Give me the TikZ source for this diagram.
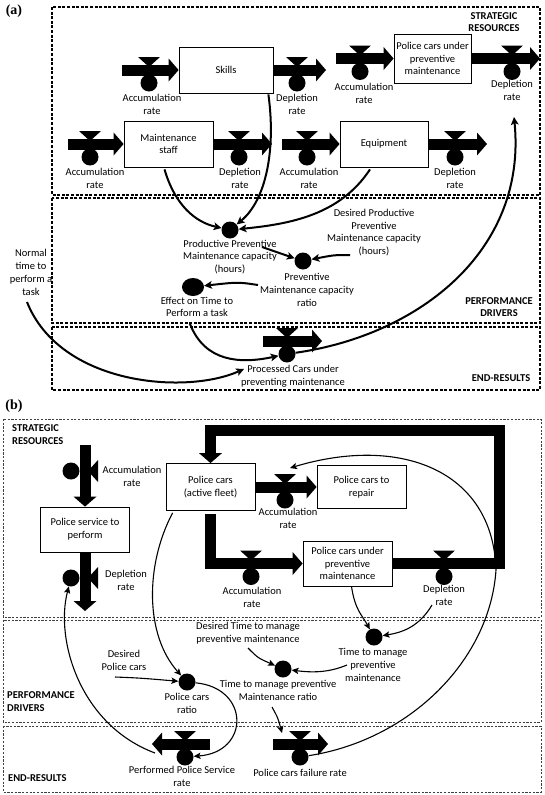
\documentclass[tikz,border=0pt]{standalone}
\usepackage{fontspec}
\setmainfont{Carlito}
\newfontfamily\serifbold{Liberation Serif}
\usetikzlibrary{arrows.meta,calc,shapes.geometric}
\begin{document}
\begin{tikzpicture}[x=1pt,y=-1pt,
  txt/.style={font=\fontsize{10.5}{12.8}\selectfont, align=center, inner sep=0pt},
  hdr/.style={txt, font=\fontsize{10.5}{12.8}\selectfont\bfseries},
  lbl/.style={font=\serifbold\bfseries\fontsize{14}{16}\selectfont, inner sep=0pt},
  stock/.style={draw, line width=0.8pt, txt},
  auxc/.style={circle, fill=black, inner sep=0pt, minimum size=17pt},
  auxe/.style={ellipse, fill=black, inner sep=0pt, minimum width=22pt, minimum height=18pt},
  flow/.style={line width=11pt, line join=miter, -{Triangle[length=10pt,width=23pt,line width=0pt]}},
  conA/.style={line width=2pt, -{Stealth[length=8pt,width=8pt,inset=2pt,line width=0pt]}},
  conB/.style={line width=1.1pt, -{Stealth[length=7pt,width=6.5pt,inset=1.5pt,line width=0pt]}},
  boxA/.style={line width=1.6pt, dash pattern=on 3pt off 1.6pt},
  boxB/.style={line width=0.6pt, black!75, dash pattern=on 2.2pt off 1.5pt},
  hvalve/.pic={\fill (-11,-13) -- (11,-13) -- (0,-3) -- cycle; \node[auxc] (-c) at (0,13) {};},
  vvalve/.pic={\fill (13,-11) -- (13,11) -- (3,0) -- cycle; \node[auxc] (-c) at (-14,0) {};}
]
\useasboundingbox (0,0) rectangle (544,795);

% ---------------- (a) ----------------
\node[lbl] (la) at (14,11) {(a)};
\draw[boxA] (52,7) rectangle (540,195);
\draw[boxA] (52,198) rectangle (540,323);
\draw[boxA] (52,327) rectangle (540,390);
\node[hdr] (sra) at (494,22) {STRATEGIC\\RESOURCES};
\node[hdr] (pda) at (499,307) {PERFORMANCE\\DRIVERS};
\node[hdr] (era) at (501,378) {END-RESULTS};

% stocks
\node[stock, minimum width=94pt, minimum height=46pt] (skills) at (226,70) {Skills};
\node[stock, minimum width=77pt, minimum height=49pt] (pcpmA) at (432.5,58.5) {Police cars under\\preventive\\maintenance};
\node[stock, minimum width=89pt, minimum height=46pt] (mstaff) at (168.5,144) {Maintenance\\staff};
\node[stock, minimum width=88pt, minimum height=46pt] (equip) at (384,144) {Equipment};

% flows row 1
\coordinate (s1) at (122,70);
\draw[flow] (s1) -- (skills.west);
\pic (va1) at (149,70) {hvalve};
\node[txt] (la1) at (152,104) {Accumulation\\rate};
\coordinate (e1) at (326,70);
\draw[flow] (skills.east) -- (e1);
\pic (va2) at (297,70) {hvalve};
\node[txt] (la2) at (297,104) {Depletion\\rate};
\coordinate (s3) at (336,58.5);
\draw[flow] (s3) -- (pcpmA.west);
\pic (va3) at (360,58.5) {hvalve};
\node[txt] (la3) at (364,93) {Accumulation\\rate};
\coordinate (e3) at (540,58.5);
\draw[flow] (pcpmA.east) -- (e3);
\pic (va4) at (512,58.5) {hvalve};
\node[txt] (la4) at (512,90) {Depletion\\rate};

% flows row 2
\coordinate (s4) at (68,144);
\draw[flow] (s4) -- (mstaff.west);
\pic (va5) at (90,144) {hvalve};
\node[txt] (la5) at (95,178) {Accumulation\\rate};
\coordinate (e4) at (272,144);
\draw[flow] (mstaff.east) -- (e4);
\pic (va6) at (239,144) {hvalve};
\node[txt] (la6) at (240,178) {Depletion\\rate};
\coordinate (s5) at (282,144);
\draw[flow] (s5) -- (equip.west);
\pic (va8) at (307,144) {hvalve};
\node[txt] (la8) at (309,178) {Accumulation\\rate};
\coordinate (e5) at (487,144);
\draw[flow] (equip.east) -- (e5);
\pic (va9) at (455,144) {hvalve};
\node[txt] (la9) at (455,178) {Depletion\\rate};

% performance drivers
\node[auxc] (ppm) at (230,230) {};
\node[txt] (ppmL) at (230,257) {Productive Preventive\\Maintenance capacity\\(hours)};
\node[auxc] (ratio) at (303,261) {};
\node[txt] (ratioL) at (307,290) {Preventive\\Maintenance capacity\\ratio};
\node[auxe] (effect) at (193,287) {};
\node[txt] (effL) at (197,307) {Effect on Time to\\Perform a task};
\node[txt] (despL) at (374,232.5) {Desired Productive\\Preventive\\Maintenance capacity\\(hours)};
\node[txt] (normL) at (31,272.5) {Normal\\time to\\perform a\\task};

% end results
\coordinate (s6) at (263,341);
\coordinate (e6) at (322,341);
\draw[flow] (s6) -- (e6);
\pic (va7) at (287,341) {hvalve};
\node[txt] (procL) at (293,376) {Processed Cars under\\preventing maintenance};

% connectors (a)
\draw[conA] ($(skills.south east)+(-5,1)$) .. controls (276,150) and (266,200) .. (ppm);
\draw[conA] ($(mstaff.south)+(-4,2)$) .. controls (175,205) and (195,222) .. (ppm);
\draw[conA] ($(equip.south)+(-14,2)$) .. controls (340,215) and (290,224) .. (ppm);
\coordinate (c4) at (262,247);
\draw[conA] (c4) .. controls (276,252) .. (ratio);
\coordinate (c5) at (350,255);
\draw[conA] (c5) .. controls (334,255) .. (ratio);
\coordinate (c6) at (258,285);
\draw[conA] (c6) .. controls (238,282) .. (effect);
\coordinate (c7) at (190,324);
\draw[conA] (c7) .. controls (205,362) and (240,364) .. (va7-c);
\coordinate (c8) at (27,302);
\coordinate (c8e) at (244,369);
\draw[conA] (c8) .. controls (60,385) and (185,395) .. (c8e);
\coordinate (c9e) at (514,117);
\draw[conA] (va7-c) .. controls (420,335) and (527,250) .. (c9e);

% ---------------- (b) ----------------
\node[lbl] (lb) at (14,406) {(b)};
\draw[boxB] (3,419) rectangle (541,617);
\draw[boxB] (3,620) rectangle (541,722);
\draw[boxB] (3,726) rectangle (541,792);
\node[hdr, anchor=west, align=left] (srb) at (12,434.5) {STRATEGIC\\RESOURCES};
\node[hdr, anchor=west, align=left] (pdb) at (7,701.5) {PERFORMANCE\\DRIVERS};
\node[hdr, anchor=west, align=left] (erb) at (8,778) {END-RESULTS};

% stocks
\node[stock, minimum width=89pt, minimum height=45pt] (psvc) at (85,529.5) {Police service to\\perform};
\node[stock, minimum width=89pt, minimum height=47pt] (pcars) at (210.5,487) {Police cars\\(active fleet)};
\node[stock, minimum width=89pt, minimum height=43pt] (prep) at (361.5,487) {Police cars to\\repair};
\node[stock, minimum width=89pt, minimum height=45pt] (pcpmB) at (347.5,563.5) {Police cars under\\preventive\\maintenance};

% flows (b)
\coordinate (s7) at (85,445);
\draw[flow] (s7) -- (psvc.north);
\pic (vb1) at (85,471) {vvalve};
\node[txt] (lb1) at (132,476) {Accumulation\\rate};
\coordinate (e7) at (85,611);
\draw[flow] (psvc.south) -- (e7);
\pic (vb2) at (85,578) {vvalve};
\node[txt] (lb2) at (126,580) {Depletion\\rate};

\draw[flow] (pcars.east) -- (prep.west);
\pic (vb3) at (285,487) {hvalve};
\node[txt] (lb3) at (288,518) {Accumulation\\rate};

\coordinate (s8) at (210.5,514);
\draw[flow] (s8) |- (pcpmB.west);
\pic (vb4) at (251,563.5) {hvalve};
\node[txt] (lb4) at (252,597) {Accumulation\\rate};

\coordinate (cr) at (499,430);
\draw[flow] (pcpmB.east) -| (cr) -| (pcars.north);
\pic (vb5) at (444,563.5) {hvalve};
\node[txt] (lb5) at (444,595) {Depletion\\rate};

\coordinate (s9) at (210,744);
\coordinate (e9) at (152,744);
\draw[flow] (s9) -- (e9);
\pic (vb6) at (185,744) {hvalve};
\node[txt] (perfL) at (182,776) {Performed Police Service\\rate};

\coordinate (s10) at (273,744);
\coordinate (e10) at (328,744);
\draw[flow] (s10) -- (e10);
\pic (vb7) at (300,744) {hvalve};
\node[txt] (failL) at (300,773) {Police cars failure rate};

% auxiliaries (b)
\node[auxc] (tm) at (374,637) {};
\node[txt] (tmL) at (373,665) {Time to manage\\preventive\\maintenance};
\node[auxc] (tmr) at (283,669) {};
\node[txt] (tmrL) at (278,690.5) {Time to manage preventive\\Maintenance ratio};
\node[auxc] (pcr) at (187,682) {};
\node[txt] (pcrL) at (187,703.5) {Police cars\\ratio};
\node[txt] (dtL) at (248,633.5) {Desired Time to manage\\preventive maintenance};
\node[txt] (dpL) at (124,660.5) {Desired\\Police cars};

% connectors (b)
\draw[conB] ($(pcpmB.south)+(4,0)$) .. controls (355,610) and (362,615) .. (tm);
\coordinate (c10) at (432,605);
\draw[conB] (c10) .. controls (420,625) and (405,632) .. (tm);
\coordinate (c11) at (347,665);
\draw[conB] (c11) .. controls (330,672) and (315,673) .. (tmr);
\coordinate (c12) at (248,648);
\draw[conB] (c12) .. controls (258,658) .. (tmr);
\coordinate (c13) at (272,707);
\coordinate (c13e) at (282,733);
\draw[conB] (c13) .. controls (278,718) .. (c13e);
\coordinate (c14) at (496,570);
\coordinate (c14e) at (290,468);
\draw[conB] (vb7-c) .. controls (410,740) and (490,660) .. (c14) .. controls (493,470) and (400,435) .. (c14e);
\draw[conB] ($(pcars.south west)+(7,2)$) .. controls (145,565) and (145,635) .. (pcr);
\coordinate (c15) at (115,677);
\draw[conB] (c15) .. controls (140,678) .. (pcr);
\draw[conB] (pcr) .. controls (250,688) and (250,752) .. (vb6-c);
\coordinate (c16) at (155,753);
\draw[conB] (c16) .. controls (80,725) and (55,640) .. (vb2-c);
\end{tikzpicture}
\end{document}
